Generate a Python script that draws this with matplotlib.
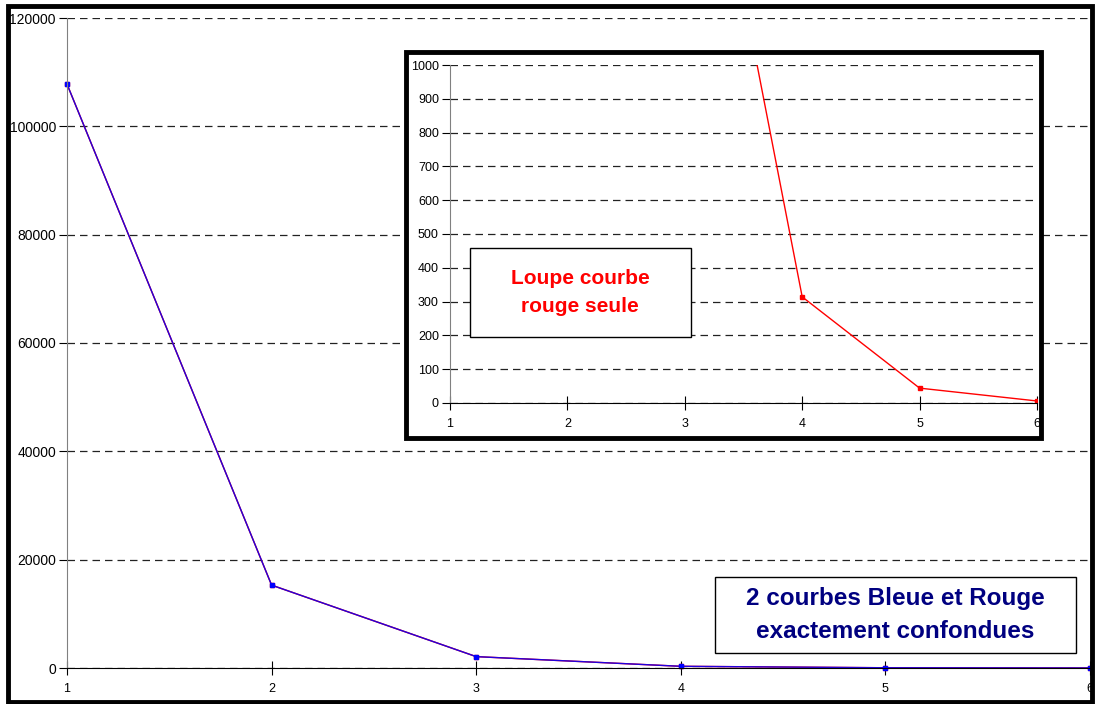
import matplotlib.pyplot as plt
from matplotlib.patches import Rectangle

plt.rcParams['font.family'] = ['Liberation Sans', 'DejaVu Sans']

# valeurs des deux courbes (identiques)
x_vals = [1, 2, 3, 4, 5, 6]
courbe_rouge = [107800, 15300, 2100, 314, 44, 6]
courbe_bleue = [107800, 15300, 2100, 314, 44, 6]

main_yticks = [0, 20000, 40000, 60000, 80000, 100000, 120000]
loupe_yticks = [0, 100, 200, 300, 400, 500, 600, 700, 800, 900, 1000]

W, H = 1099, 704
fig = plt.figure(figsize=(W / 100, H / 100), dpi=100)


def px_box(x0, y0, x1, y1):
    """rectangle en pixels (origine en haut à gauche) -> coords figure"""
    return (x0 / W, 1 - y1 / H, (x1 - x0) / W, (y1 - y0) / H)


def cadre(x0, y0, x1, y1, lw, zorder, face='white'):
    b = px_box(x0, y0, x1, y1)
    fig.patches.append(Rectangle(b[:2], *b[2:], transform=fig.transFigure,
                                 facecolor=face, edgecolor='black',
                                 linewidth=lw, zorder=zorder))


def style_axes(ax, ylim, yticks, ysize, xsize):
    ax.set_xlim(1, 6)
    ax.set_ylim(*ylim)
    ax.set_xticks(x_vals)
    ax.set_yticks(yticks)
    ax.spines['top'].set_visible(False)
    ax.spines['right'].set_visible(False)
    ax.spines['left'].set_color('#808080')
    ax.spines['bottom'].set_color('black')
    ax.tick_params(axis='y', direction='out', length=6, labelsize=ysize,
                   pad=2, color='black')
    ax.tick_params(axis='x', direction='inout', length=10, labelsize=xsize,
                   pad=6, color='black')
    ax.yaxis.grid(True, color='#222222', linestyle=(0, (6, 4)), linewidth=0.9)
    ax.set_axisbelow(True)


# graphique principal
ax = fig.add_axes(px_box(67, 18, 1090, 668))
ax.set_zorder(0)
ax.plot(x_vals, courbe_rouge, color='red', linewidth=1, marker='s',
        markersize=3, clip_on=False)
ax.plot(x_vals, courbe_bleue, color='#2200dd', linewidth=1, marker='s',
        markersize=3.5, markerfacecolor='blue', markeredgecolor='blue',
        clip_on=False)
style_axes(ax, (0, 120000), main_yticks, 10, 9)

# cadre de la loupe
cadre(406, 52, 1041, 438, 3.5, 2)

# loupe sur la courbe rouge
axin = fig.add_axes(px_box(450, 65, 1037, 403))
axin.set_zorder(3)
axin.patch.set_alpha(0)
axin.plot(x_vals, courbe_rouge, color='red', linewidth=1, marker='s',
          markersize=3.5)
style_axes(axin, (0, 1000), loupe_yticks, 9, 9)

# encadré "Loupe courbe rouge seule"
cadre(470, 248, 691, 337, 1, 4)
fig.text(580 / W, 1 - 279 / H, "Loupe courbe", color='red', fontsize=15,
         fontweight='bold', ha='center', va='center', zorder=5)
fig.text(580 / W, 1 - 307 / H, "rouge seule", color='red', fontsize=15,
         fontweight='bold', ha='center', va='center', zorder=5)

# encadré "2 courbes ..."
cadre(715, 577, 1076, 653, 1, 4)
fig.text(895 / W, 1 - 599 / H, "2 courbes Bleue et Rouge", color='#000080',
         fontsize=17.5, fontweight='bold', ha='center', va='center', zorder=5)
fig.text(895 / W, 1 - 632 / H, "exactement confondues", color='#000080',
         fontsize=17.5, fontweight='bold', ha='center', va='center', zorder=5)

# cadre extérieur
cadre(8, 6, 1092, 702, 3.5, 6, face='none')

fig.savefig("out.png", dpi=100)
